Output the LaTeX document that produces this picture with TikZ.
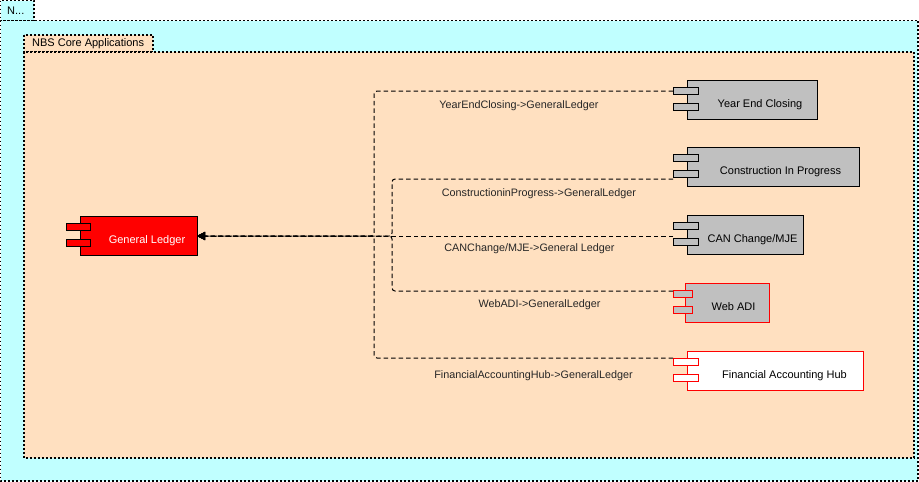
\documentclass[tikz,border=0pt]{standalone}
\usepackage{fontspec}
\setmainfont{Liberation Sans}
\usetikzlibrary{arrows.meta}
\definecolor{outerfill}{RGB}{192,255,255}
\definecolor{pkgfill}{RGB}{255,224,192}
\definecolor{compgray}{RGB}{192,192,192}
\definecolor{glred}{RGB}{255,0,0}
\tikzset{
  pkgline/.style={draw=black, line width=1.2pt, dash pattern=on 1.8pt off 2.2pt},
  pkgtext/.style={anchor=west, inner sep=0pt, font=\fontsize{11}{13}\selectfont},
  compbox/.style={draw=black, line width=1pt, fill=compgray, minimum height=39pt,
                  anchor=north west, inner sep=0pt, font=\fontsize{11}{13}\selectfont,
                  text height=14pt, text depth=0pt},
  lug/.style={line width=1pt},
  dep/.style={draw=black, line width=1pt, dash pattern=on 4.5pt off 3pt, rounded corners=3pt},
  deparrow/.style={dep, -{Triangle[length=8pt,width=8pt]}},
  deplabel/.style={inner sep=0pt, font=\fontsize{10.8}{13}\selectfont, text=black!85}
}
% lugs of a component: left x, right x, top y of box, fill, border
\newcommand\complugs[5]{%
  \draw[lug, fill=#4, draw=#5] (#1,#3+7) rectangle (#2,#3+14);
  \draw[lug, fill=#4, draw=#5] (#1,#3+23) rectangle (#2,#3+30);
}
\begin{document}
\begin{tikzpicture}[x=1pt,y=-1pt]
\useasboundingbox (0,0) rectangle (919,482);

% outer package
\draw[pkgline, fill=outerfill] (0.5,0.5) rectangle (34,20.5);
\draw[pkgline, fill=outerfill] (0.5,20.5) rectangle (918,481);
\node[pkgtext] (outertab) at (7,11) {N...};

% NBS Core Applications package
\draw[pkgline, fill=pkgfill] (24,35) rectangle (153,52);
\draw[pkgline, fill=pkgfill] (24,52) rectangle (914,458);
\node[pkgtext] (coretab) at (32,44) {NBS Core Applications};

% General Ledger
\node[compbox, fill=glred, minimum width=117pt, text=white] (gl) at (80,216)
  {\hspace*{16pt}General Ledger};
\complugs{66}{90}{216}{glred}{black}

% Year End Closing
\node[compbox, minimum width=130pt] (yec) at (687,80) {\hspace*{15pt}Year End Closing};
\complugs{673}{698}{80}{compgray}{black}

% Construction In Progress
\node[compbox, minimum width=172pt] (cip) at (687,147) {\hspace*{14pt}Construction In Progress};
\complugs{673}{698}{147}{compgray}{black}

% CAN Change/MJE
\node[compbox, minimum width=116pt] (can) at (687,215) {\hspace*{14pt}CAN Change/MJE};
\complugs{673}{698}{215}{compgray}{black}

% Web ADI
\node[compbox, draw=red, minimum width=84pt] (web) at (685,283) {\hspace*{12pt}Web ADI};
\complugs{673}{692}{283}{compgray}{red}

% Financial Accounting Hub
\node[compbox, draw=red, fill=white, minimum width=176pt] (fah) at (687,351) {\hspace*{18pt}Financial Accounting Hub};
\complugs{673}{698}{351}{white}{red}

% connector start points at the component lugs
\coordinate (yec-p) at (673,91);
\coordinate (cip-p) at (673,179);
\coordinate (can-p) at (673,236);
\coordinate (web-p) at (673,291);
\coordinate (fah-p) at (673,358);
\coordinate (gl-p) at (197,236);

% dependencies
\draw[deparrow] (yec-p) -- (374,91) -- (374,236) -- (gl-p);
\draw[deparrow] (cip-p) -- (392,179) -- (392,236) -- (gl-p);
\draw[deparrow] (can-p) -- (gl-p);
\draw[deparrow] (web-p) -- (392,291) -- (392,236) -- (gl-p);
\draw[deparrow] (fah-p) -- (374,358) -- (374,236) -- (gl-p);

% dependency labels
\node[deplabel] (l1) at (519,105.5) {YearEndClosing->GeneralLedger};
\node[deplabel] (l2) at (539,193.5) {ConstructioninProgress->GeneralLedger};
\node[deplabel] (l3) at (529.5,248.5) {CANChange/MJE->General Ledger};
\node[deplabel] (l4) at (539.5,304.5) {WebADI->GeneralLedger};
\node[deplabel] (l5) at (533.5,375.5) {FinancialAccountingHub->GeneralLedger};
\end{tikzpicture}
\end{document}
